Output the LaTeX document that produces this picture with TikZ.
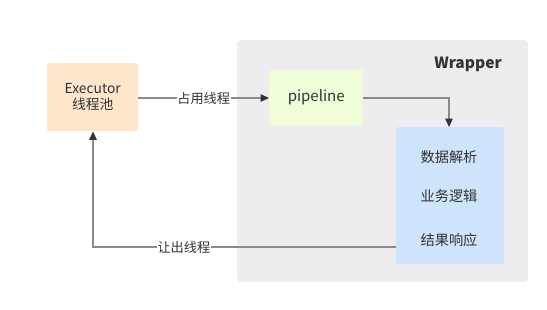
\documentclass[tikz,border=0pt]{standalone}
\usepackage{fontspec}
\setmainfont{Noto Sans CJK SC}
\usetikzlibrary{arrows.meta}
\definecolor{txt}{HTML}{333333}
\definecolor{ln}{HTML}{8A8A8A}
\definecolor{wrapfill}{HTML}{EDECEE}
\definecolor{peach}{HTML}{FDE6CB}
\definecolor{lgreen}{HTML}{EFFDD8}
\definecolor{lblue}{HTML}{CDE4FA}
\tikzset{
  box/.style={draw=none, rounded corners=2pt, inner sep=0pt, text=txt, align=center},
  conn/.style={draw=ln, line width=1.3pt, -{Triangle[length=8.5pt,width=7.5pt,fill=txt,color=txt]}},
  lbl/.style={fill=white, inner sep=0.5pt, text=txt, font=\fontsize{13.2}{15}\selectfont},
}
\begin{document}
\begin{tikzpicture}[x=1pt,y=-1pt]
\useasboundingbox (0,0) rectangle (547,309);
\node[box, fill=wrapfill, rounded corners=4pt, minimum width=291pt, minimum height=242pt, anchor=north west] (wrap) at (237,40) {};
\node[text=txt, font=\fontsize{15.5}{17}\selectfont\bfseries] (wlabel) at (468,64) {Wrapper};
\node[box, fill=peach, minimum width=91pt, minimum height=68pt, anchor=north west, font=\fontsize{13.8}{17}\selectfont] (exec) at (47,63) {Executor\\[-1pt]线程池};
\node[box, fill=lgreen, minimum width=94pt, minimum height=55pt, anchor=north west, font=\fontsize{15}{17}\selectfont] (pipe) at (269,70) {pipeline};
\node[box, fill=lblue, minimum width=108pt, minimum height=137pt, anchor=north west] (blue) at (396,127) {};
\node[text=txt, font=\fontsize{14.2}{16}\selectfont] (t1) at (449,157) {数据解析};
\node[text=txt, font=\fontsize{14.2}{16}\selectfont] (t2) at (449,196) {业务逻辑};
\node[text=txt, font=\fontsize{14.2}{16}\selectfont] (t3) at (449,240) {结果响应};
\coordinate (c1) at (449,98);
\coordinate (r1) at (396,247);
\coordinate (r2) at (93,247);
\draw[conn] (exec.east |- 0,98) -- node[lbl] (l1) {占用线程} (pipe.west |- 0,98);
\draw[conn] (pipe.east |- c1) -- (c1) -- (c1 |- blue.north);
\draw[conn] (r1) -- node[lbl, pos=0.7] (l2) {让出线程} (r2) -- (r2 |- exec.south);
\end{tikzpicture}
\end{document}
